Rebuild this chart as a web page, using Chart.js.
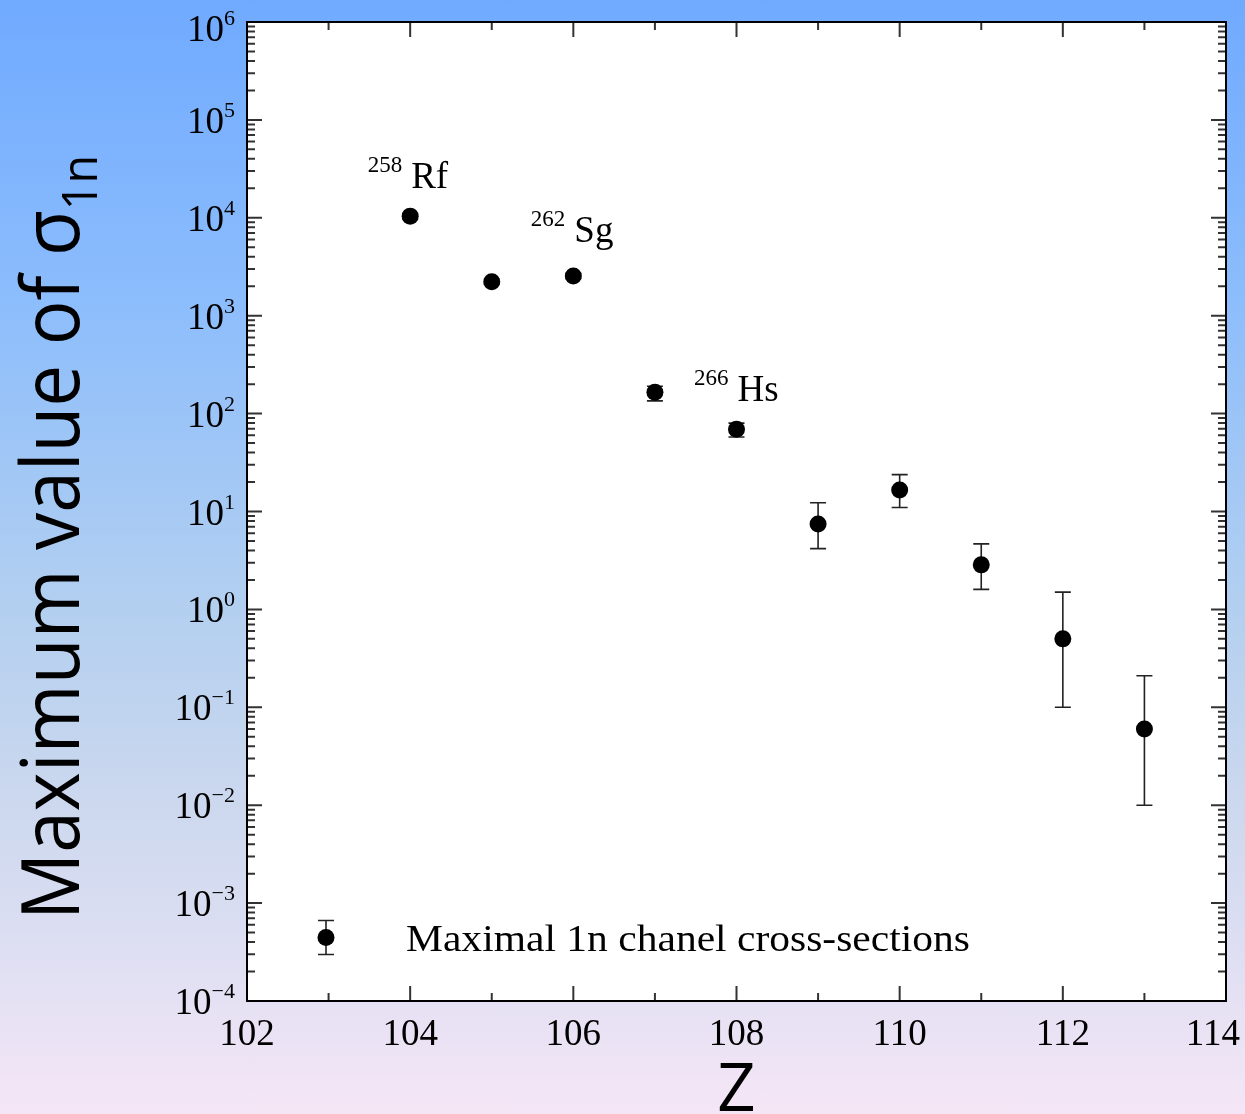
<!DOCTYPE html>
<html><head><meta charset="utf-8">
<script src="https://cdn.jsdelivr.net/npm/chart.js@4/dist/chart.umd.min.js"></script>
<style>
html,body{margin:0;padding:0;}
body{width:1245px;height:1114px;overflow:hidden;
background:linear-gradient(to bottom,#70aaff 0%,#8cbdfc 27%,#b2cff0 54%,#ccd8ee 72%,#dcdef2 84%,#f5e6f6 100%);}
canvas{display:block}
</style></head><body>
<canvas id="c" width="1245" height="1114"></canvas>
<script>
// ---- data ----
const Z        = [104, 105, 106, 107, 108, 109, 110, 111, 112, 113];
const sigmaMax = [10400, 2220, 2540, 165, 69.2, 7.47, 16.6, 2.85, 0.50, 0.060];
const errHigh  = [11000, 2350, 2700, 190, 80, 12.3, 23.8, 4.67, 1.50, 0.21];
const errLow   = [9800, 2100, 2400, 135, 57.7, 4.18, 11.0, 1.60, 0.10, 0.010];
const xTickValues = [102, 103, 104, 105, 106, 107, 108, 109, 110, 111, 112, 113, 114];
const xTickLabels = ['102', '', '104', '', '106', '', '108', '', '110', '', '112', '', '114'];
const yTickExponents = [-4, -3, -2, -1, 0, 1, 2, 3, 4, 5, 6];
const nuclideZ    = [104, 106, 108];
const nuclideMass = ['258', '262', '266'];
const nuclideSym  = ['Rf', 'Sg', 'Hs'];
const legendLabel = 'Maximal 1n chanel cross-sections';
const yTitle = 'Maximum value of σ';
const yTitleSub = '1n';
const xTitle = 'Z';

// ---- styles ----
const SERIF = '"Liberation Serif", "DejaVu Serif", serif';
const SANS = '"Open Sans", "Noto Sans", sans-serif';
const nuclideDy = [28, 34, 28.6];

const decorations = {
  id: 'decorations',
  beforeDraw(chart) {
    const {ctx, chartArea: a} = chart;
    ctx.save();
    ctx.fillStyle = '#ffffff';
    ctx.fillRect(a.left, a.top, a.right - a.left, a.bottom - a.top);
    ctx.restore();
  },
  beforeDatasetsDraw(chart) {
    const {ctx} = chart;
    const xs = chart.scales.x, ys = chart.scales.y;
    ctx.save();
    ctx.strokeStyle = '#222';
    ctx.lineWidth = 1.6;
    for (let i = 0; i < Z.length; i++) {
      const x = xs.getPixelForValue(Z[i]);
      const y1 = ys.getPixelForValue(errHigh[i]);
      const y2 = ys.getPixelForValue(errLow[i]);
      ctx.beginPath();
      ctx.moveTo(x, y1); ctx.lineTo(x, y2);
      ctx.moveTo(x - 8, y1); ctx.lineTo(x + 8, y1);
      ctx.moveTo(x - 8, y2); ctx.lineTo(x + 8, y2);
      ctx.stroke();
    }
    ctx.restore();
  },
  afterDatasetsDraw(chart) {
    const {ctx, chartArea: a, width: W} = chart;
    const xs = chart.scales.x, ys = chart.scales.y;
    ctx.save();
    // ticks
    ctx.strokeStyle = '#333';
    ctx.lineWidth = 2;
    ctx.beginPath();
    yTickExponents.forEach(e => {
      const y = ys.getPixelForValue(Math.pow(10, e));
      ctx.moveTo(a.left, y); ctx.lineTo(a.left + 15, y);
      ctx.moveTo(a.right, y); ctx.lineTo(a.right - 15, y);
      if (e < yTickExponents[yTickExponents.length - 1]) {
        for (let k = 2; k <= 9; k++) {
          const ym = ys.getPixelForValue(k * Math.pow(10, e));
          ctx.moveTo(a.left, ym); ctx.lineTo(a.left + 8, ym);
          ctx.moveTo(a.right, ym); ctx.lineTo(a.right - 8, ym);
        }
      }
    });
    xTickValues.forEach((v, i) => {
      const x = xs.getPixelForValue(v);
      const len = xTickLabels[i] ? 15 : 8;
      ctx.moveTo(x, a.bottom); ctx.lineTo(x, a.bottom - len);
      ctx.moveTo(x, a.top); ctx.lineTo(x, a.top + len);
    });
    ctx.stroke();
    // frame
    ctx.strokeStyle = '#000';
    ctx.lineWidth = 2;
    ctx.strokeRect(a.left, a.top, a.right - a.left, a.bottom - a.top);

    // x tick labels
    ctx.fillStyle = '#000';
    ctx.font = '37px ' + SERIF;
    ctx.textAlign = 'center';
    ctx.textBaseline = 'alphabetic';
    xTickValues.forEach((v, i) => {
      if (!xTickLabels[i]) return;
      const w = ctx.measureText(xTickLabels[i]).width;
      const x = Math.min(xs.getPixelForValue(v), W - 5 - w / 2);
      ctx.fillText(xTickLabels[i], x, a.bottom + 44);
    });
    // y tick labels 10^e
    ctx.textAlign = 'left';
    yTickExponents.forEach(e => {
      const y = ys.getPixelForValue(Math.pow(10, e));
      const base = Math.max(y + 13, 41);
      const sup = (e < 0 ? '\u2212' : '') + Math.abs(e);
      ctx.font = '37px ' + SERIF;
      const wb = ctx.measureText('10').width;
      ctx.font = '22px ' + SERIF;
      const ws = ctx.measureText(sup).width;
      const right = a.left - 12;
      const x0 = right - ws - wb;
      ctx.font = '37px ' + SERIF;
      ctx.fillText('10', x0, base);
      ctx.font = '22px ' + SERIF;
      ctx.fillText(sup, x0 + wb, base - 16);
    });

    // nuclide annotations
    nuclideZ.forEach((z, i) => {
      const idx = Z.indexOf(z);
      const x = xs.getPixelForValue(z) + 1;
      const y = ys.getPixelForValue(sigmaMax[idx]) - nuclideDy[i];
      ctx.font = '37px ' + SERIF;
      ctx.textAlign = 'left';
      ctx.fillText(nuclideSym[i], x, y);
      ctx.font = '23px ' + SERIF;
      ctx.textAlign = 'right';
      ctx.fillText(nuclideMass[i], x - 9, y - 16);
    });

    // legend
    const lx = a.left + 79, ly = a.bottom - 63.5;
    ctx.strokeStyle = '#222';
    ctx.lineWidth = 1.6;
    ctx.beginPath();
    ctx.moveTo(lx, ly - 17); ctx.lineTo(lx, ly + 17);
    ctx.moveTo(lx - 8, ly - 17); ctx.lineTo(lx + 8, ly - 17);
    ctx.moveTo(lx - 8, ly + 17); ctx.lineTo(lx + 8, ly + 17);
    ctx.stroke();
    ctx.beginPath();
    ctx.arc(lx, ly, 8.5, 0, Math.PI * 2);
    ctx.fillStyle = '#000';
    ctx.fill();
    ctx.font = '37px ' + SERIF;
    ctx.textAlign = 'left';
    const lw = ctx.measureText(legendLabel).width;
    ctx.save();
    ctx.translate(a.left + 159, ly + 13);
    ctx.scale(564 / lw, 1);
    ctx.fillText(legendLabel, 0, 0);
    ctx.restore();

    // x title
    ctx.font = '67px ' + SANS;
    ctx.textAlign = 'center';
    ctx.fillText(xTitle, (a.left + a.right) / 2, 1111);

    // y title
    ctx.save();
    ctx.translate(79, 920);
    ctx.rotate(-Math.PI / 2);
    ctx.font = '80px ' + SANS;
    const wm = ctx.measureText(yTitle).width;
    ctx.font = '50px ' + SANS;
    const wsub = ctx.measureText(yTitleSub).width;
    ctx.scale(765 / (wm + wsub), 1);
    ctx.textAlign = 'left';
    ctx.font = '80px ' + SANS;
    ctx.fillText(yTitle, 0, 0);
    ctx.font = '50px ' + SANS;
    ctx.fillText(yTitleSub, wm, 18);
    ctx.restore();

    ctx.restore();
  }
};

new Chart(document.getElementById('c'), {
  type: 'scatter',
  data: {
    datasets: [{
      label: legendLabel,
      data: Z.map((z, i) => ({x: z, y: sigmaMax[i]})),
      pointRadius: 8.5,
      pointHoverRadius: 8.5,
      pointBackgroundColor: '#000',
      pointBorderColor: '#000',
      pointBorderWidth: 0,
      showLine: false
    }]
  },
  options: {
    responsive: false,
    animation: false,
    events: [],
    layout: {padding: {left: 247, right: 19, top: 22, bottom: 113}},
    plugins: {legend: {display: false}, tooltip: {enabled: false}},
    scales: {
      x: {type: 'linear', display: false, min: 102, max: 114},
      y: {type: 'logarithmic', display: false, min: 1e-4, max: 1e6}
    }
  },
  plugins: [decorations]
});
</script>
</body></html>
